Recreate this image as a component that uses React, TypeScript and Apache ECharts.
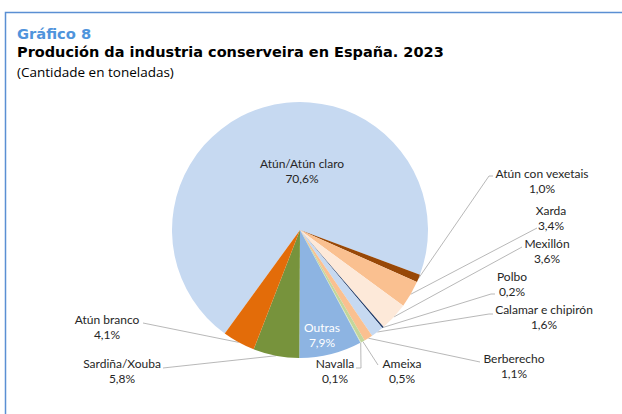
import React, { useEffect, useRef } from 'react';
import * as echarts from 'echarts';

// ---- Data ----
const categories = [
  'Atún/Atún claro',
  'Atún con vexetais',
  'Xarda',
  'Mexillón',
  'Polbo',
  'Calamar e chipirón',
  'Berberecho',
  'Ameixa',
  'Navalla',
  'Outras',
  'Sardiña/Xouba',
  'Atún branco',
];
const shares = [70.6, 1.0, 3.4, 3.6, 0.2, 1.6, 1.1, 0.5, 0.1, 7.9, 5.8, 4.1];

// ---- Styles / layout (not data) ----
const sliceColors = [
  '#C6D9F1',
  '#984807',
  '#FAC090',
  '#FDE9D9',
  '#1F3864',
  '#C6D9F1',
  '#FAC090',
  '#C3D69B',
  '#D7E4BD',
  '#8DB4E2',
  '#77933C',
  '#E36C09',
];
const insideLabel = [true, false, false, false, false, false, false, false, false, true, false, false];
const labelColor = ['#262626', '#262626', '#262626', '#262626', '#262626', '#262626', '#262626', '#262626', '#262626', '#FFFFFF', '#262626', '#262626'];
// label block centre (x, y) in pixels
const labelAnchors: number[][] = [
  [302, 171],
  [542, 181],
  [551, 218],
  [547, 251],
  [512, 284],
  [544, 317],
  [514, 366],
  [402, 371],
  [335, 371],
  [322, 335],
  [122, 371],
  [107, 327],
];
// leader line path after the slice edge point
const leaderTails: (number[][] | null)[] = [
  null,
  [[489, 176], [493, 176]],
  [[537, 228], [537, 228]],
  [[522, 247], [522, 247]],
  [[491, 294], [495, 294]],
  [[489, 314], [493, 314]],
  [[480, 362], [480, 362]],
  [[378, 365], [378, 365]],
  [[361, 368], [356, 368]],
  null,
  [[163, 368], [163, 368]],
  [[143, 323], [143, 323]],
];

const LABEL_FONT = 'Lato';
const SUB_FONT = 'Open Sans';
const TITLE_FONT = 'DejaVu Sans';

export default function App() {
  const ref = useRef<HTMLDivElement>(null);

  useEffect(() => {
    document.body.style.margin = '0';
    const chart = echarts.init(ref.current as HTMLDivElement, null, {
      renderer: 'svg',
      width: 622,
      height: 414,
    });

    const data = categories.map((name, i) => ({
      name,
      value: shares[i],
      itemStyle: { color: sliceColors[i] },
      label: {
        position: insideLabel[i] ? 'inside' : 'outside',
        color: labelColor[i],
      },
      labelLine: { show: !insideLabel[i] },
    }));

    const option: any = {
      animation: false,
      backgroundColor: '#ffffff',
      graphic: [
        {
          type: 'rect',
          shape: { x: 5.5, y: 12.5, width: 700, height: 500 },
          style: { fill: 'none', stroke: '#5A8FD3', lineWidth: 1.5 },
          silent: true,
        },
        {
          type: 'text',
          x: 17,
          y: 33,
          style: {
            text: 'Gráfico 8',
            fill: '#4F94DC',
            fontSize: 14.7,
            fontWeight: 'bold',
            fontFamily: TITLE_FONT,
            verticalAlign: 'middle',
          },
        },
        {
          type: 'text',
          x: 17,
          y: 52,
          style: {
            text: 'Produción da industria conserveira en España. 2023',
            fill: '#000000',
            fontSize: 14.5,
            fontWeight: 'bold',
            fontFamily: TITLE_FONT,
            verticalAlign: 'middle',
          },
        },
        {
          type: 'text',
          x: 17,
          y: 72,
          style: {
            text: '(Cantidade en toneladas)',
            fill: '#000000',
            fontSize: 13.5,
            fontFamily: SUB_FONT,
            verticalAlign: 'middle',
          },
        },
      ],
      series: [
        {
          type: 'pie',
          center: [300, 230],
          radius: 128,
          startAngle: 234,
          clockwise: true,
          avoidLabelOverlap: false,
          minShowLabelAngle: 0,
          emphasis: { disabled: true },
          itemStyle: { borderWidth: 0 },
          label: {
            show: true,
            fontFamily: LABEL_FONT,
            fontSize: 12,
            lineHeight: 14.5,
            align: 'center',
            formatter: (p: any) =>
              `${p.name}\n${Number(p.value).toFixed(1).replace('.', ',')}%`,
          },
          labelLine: {
            show: true,
            length: 10,
            length2: 10,
            smooth: false,
            lineStyle: { color: '#A6A6A6', width: 0.8 },
          },
          labelLayout: (params: any) => {
            const i = params.dataIndex;
            const a = labelAnchors[i];
            const res: any = {
              x: a[0],
              y: a[1],
              align: 'center',
              verticalAlign: 'middle',
              hideOverlap: false,
            };
            const tail = leaderTails[i];
            if (tail && params.labelLinePoints && params.labelLinePoints[0]) {
              res.labelLinePoints = [params.labelLinePoints[0], tail[0], tail[1]];
            }
            return res;
          },
          data,
        },
      ],
    };

    chart.setOption(option);
    return () => chart.dispose();
  }, []);

  return (
    <div
      ref={ref}
      style={{
        position: 'absolute',
        left: 0,
        top: 0,
        width: 622,
        height: 414,
        background: '#ffffff',
      }}
    />
  );
}
